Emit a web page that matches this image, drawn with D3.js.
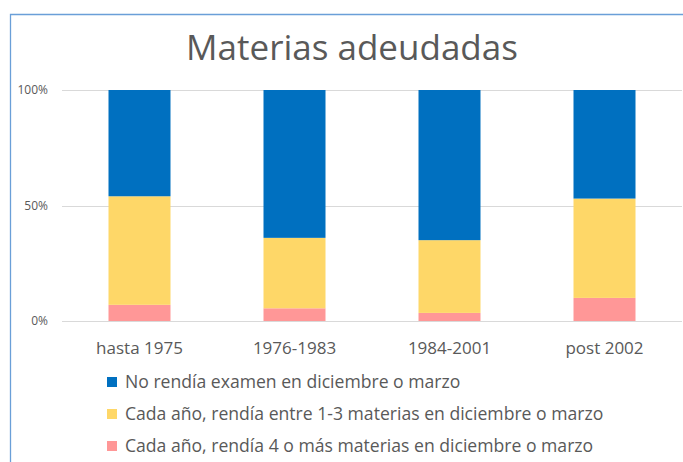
<!DOCTYPE html>
<html>
<head>
<meta charset="utf-8">
<script src="https://cdnjs.cloudflare.com/ajax/libs/d3/7.8.5/d3.min.js"></script>
<style>
    html, body { margin: 0; padding: 0; background: #fff; }
    svg { display: block; font-family: 'Open Sans', sans-serif; }
</style>
</head>
<body>
<div id="chart"></div>
<script>
'use strict';

// data (percent of each period)
var categories = ['hasta 1975', '1976-1983', '1984-2001', 'post 2002'];
var noRendia = [46, 64, 65, 47];
var entreUnoYTres = [47, 30.5, 31.5, 43];
var cuatroOMas = [7, 5.5, 3.5, 10];
var yTicks = [0, 0.5, 1];

var seriesNames = [
    'No rendía examen en diciembre o marzo',
    'Cada año, rendía entre 1-3 materias en diciembre o marzo',
    'Cada año, rendía 4 o más materias en diciembre o marzo'
];
var seriesColors = ['#0070c0', '#fed768', '#ff9797'];

var svg, x, y;
var W = 683, H = 462;
var textColor = '#595959';

function setup(){
    svg = d3.select('#chart').append('svg')
        .attr('width', W)
        .attr('height', H);

    x = d3.scaleBand()
        .domain(categories)
        .range([62, 682])
        .paddingInner(0.6)
        .paddingOuter(0.3);

    y = d3.scaleLinear()
        .domain([0, 1])
        .range([321, 90]);

    draw();
}

function draw(){
    var rows, stacked, gBars, legend;

    // chart frame, only top and left visible
    svg.append('path')
        .attr('d', 'M10.5,' + H + 'V14.5H' + W)
        .style('fill', 'none')
        .style('stroke', '#6a9fd8')
        .style('stroke-width', 1.3);

    // title
    svg.append('text')
        .attr('x', 352)
        .attr('y', 60)
        .attr('text-anchor', 'middle')
        .style('font-size', '35px')
        .style('fill', textColor)
        .text('Materias adeudadas');

    // gridlines + y labels
    svg.append('g').selectAll('line').data(yTicks).enter().append('line')
        .attr('x1', 62)
        .attr('x2', 682)
        .attr('y1', function(d){ return Math.round(y(d)) + 0.5; })
        .attr('y2', function(d){ return Math.round(y(d)) + 0.5; })
        .style('stroke', '#d9d9d9')
        .style('stroke-width', 1);

    svg.append('g').selectAll('text').data(yTicks).enter().append('text')
        .attr('x', 48)
        .attr('y', function(d){ return y(d); })
        .attr('dy', '0.35em')
        .attr('text-anchor', 'end')
        .style('font-size', '12px')
        .style('fill', textColor)
        .text(d3.format('.0%'));

    // stacked bars, pink at the bottom
    rows = categories.map(function(c, i){
        var total = noRendia[i] + entreUnoYTres[i] + cuatroOMas[i];
        return {
            cat: c,
            s2: cuatroOMas[i] / total,
            s1: entreUnoYTres[i] / total,
            s0: noRendia[i] / total
        };
    });
    stacked = d3.stack().keys(['s2', 's1', 's0'])(rows);

    gBars = svg.append('g');
    gBars.selectAll('g').data(stacked).enter().append('g')
        .style('fill', function(d){ return seriesColors[+d.key.slice(1)]; })
        .selectAll('rect').data(function(d){ return d; }).enter().append('rect')
        .attr('x', function(d){ return x(d.data.cat); })
        .attr('width', x.bandwidth())
        .attr('y', function(d){ return y(d[1]); })
        .attr('height', function(d){ return y(d[0]) - y(d[1]); });

    // category labels
    svg.append('g').selectAll('text').data(categories).enter().append('text')
        .attr('x', function(d){ return x(d) + x.bandwidth() / 2; })
        .attr('y', 354)
        .attr('text-anchor', 'middle')
        .style('font-size', '17px')
        .style('fill', textColor)
        .text(function(d){ return d; });

    // legend
    legend = svg.append('g').selectAll('g').data(seriesNames).enter().append('g')
        .attr('transform', function(d, i){ return 'translate(107,' + (382 + i * 32) + ')'; });

    legend.append('rect')
        .attr('y', -5)
        .attr('width', 10)
        .attr('height', 10)
        .style('fill', function(d, i){ return seriesColors[i]; });

    legend.append('text')
        .attr('x', 18)
        .attr('dy', '0.35em')
        .style('font-size', '17.6px')
        .style('fill', textColor)
        .text(function(d){ return d; });
}

setup();
</script>
</body>
</html>
